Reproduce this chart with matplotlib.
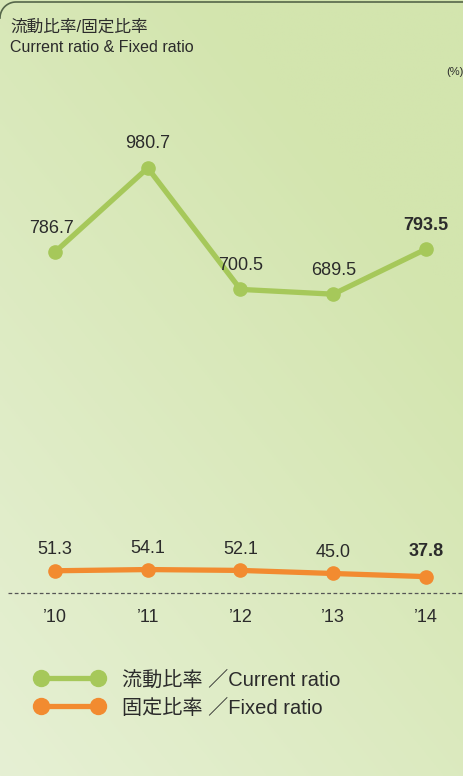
import matplotlib
matplotlib.use("Agg")
import matplotlib.pyplot as plt
import numpy as np
from matplotlib.lines import Line2D

plt.rcParams['font.family'] = ['Liberation Sans', 'Noto Sans CJK JP', 'DejaVu Sans']

years = ["’10", "’11", "’12", "’13", "’14"]
current_ratio = [786.7, 980.7, 700.5, 689.5, 793.5]
fixed_ratio = [51.3, 54.1, 52.1, 45.0, 37.8]

GREEN = "#a6c85a"
ORANGE = "#f28b30"
TEXT = "#2b2b2b"

W, H = 464, 776
fig = plt.figure(figsize=(W / 100, H / 100), dpi=100)


def px(x, y):
    # pixel position (from top-left) -> figure fraction
    return x / W, 1 - y / H


# background gradient
bg = fig.add_axes([0, 0, 1, 1], zorder=0)
gx, gy = np.meshgrid(np.linspace(0, 1, 200), np.linspace(0, 1, 300))
t = np.clip(0.55 * gx + 0.75 * (1 - gy), 0, 1)[..., None]
c_top = np.array([0xd3, 0xe5, 0xae]) / 255
c_bot = np.array([0xe6, 0xf0, 0xd4]) / 255
img = c_bot * (1 - t) + c_top * t
bg.imshow(img, aspect='auto', extent=[0, 1, 0, 1], origin='upper')
bg.set_xlim(0, 1)
bg.set_ylim(0, 1)
bg.axis('off')

# top border with rounded corner
r = 16
ang = np.linspace(np.pi, np.pi / 2, 20)
bx = list(r + r * np.cos(ang)) + [W]
by = list(2 + r - r * np.sin(ang)) + [2]
fig.add_artist(Line2D([x / W for x in bx], [1 - y / H for y in by],
                      color="#55664a", lw=1.2, transform=fig.transFigure))

# main axes: x in category positions, y in percent (0 at y=593px)
ax = fig.add_axes([0, 0, 1, 1], zorder=1)
ax.patch.set_alpha(0)
xstep = 92.75
x0 = 55
scale = 0.4334
zero_px = 593
ax.set_xlim(-x0 / xstep, (W - x0) / xstep)
ax.set_ylim(-(H - zero_px) / scale, zero_px / scale)
ax.axis('off')

xs = np.arange(len(years))
ax.plot(xs, current_ratio, color=GREEN, lw=3.8, marker='o', ms=9.5,
        solid_capstyle='round', zorder=3)
ax.plot(xs, fixed_ratio, color=ORANGE, lw=3.8, marker='o', ms=9.5,
        solid_capstyle='round', zorder=3)

ax.axhline(0, xmin=8 / W, xmax=1, color="#555555", lw=0.9, ls=(0, (3, 2)))

for i, v in enumerate(current_ratio):
    bold = i == len(current_ratio) - 1
    ax.annotate(f"{v:.1f}", (xs[i], v), xytext=(-3 if i == 0 else 0, 24),
                textcoords='offset pixels', ha='center', va='center',
                fontsize=13, color=TEXT, fontweight='bold' if bold else 'normal')
for i, v in enumerate(fixed_ratio):
    bold = i == len(fixed_ratio) - 1
    ax.annotate(f"{v:.1f}", (xs[i], v), xytext=(0, 21 if not bold else 25),
                textcoords='offset pixels', ha='center', va='center',
                fontsize=13, color=TEXT, fontweight='bold' if bold else 'normal')

for i, lab in enumerate(years):
    ax.annotate(lab, (xs[i], 0), xytext=(0, -24), textcoords='offset pixels',
                ha='center', va='center', fontsize=13, color=TEXT)

# titles
fig.text(*px(10, 27), "流動比率/固定比率", fontsize=12, color=TEXT, va='center', ha='left')
fig.text(*px(10, 47), "Current ratio & Fixed ratio", fontsize=11.5, color=TEXT, va='center', ha='left')
fig.text(*px(464, 72), "(%)", fontsize=8, color=TEXT, va='center', ha='right')

# legend
for yy, col, lab in [(678, GREEN, "流動比率 ／Current ratio"),
                     (706, ORANGE, "固定比率 ／Fixed ratio")]:
    lx0, ly = px(41, yy)
    lx1, _ = px(98, yy)
    fig.add_artist(Line2D([lx0, lx1], [ly, ly], color=col, lw=3.8, marker='o', ms=11.5,
                          transform=fig.transFigure))
    fig.text(*px(122, yy + 2), lab, fontsize=14.5, color=TEXT, va='center', ha='left')

fig.savefig("out.png", dpi=100)
